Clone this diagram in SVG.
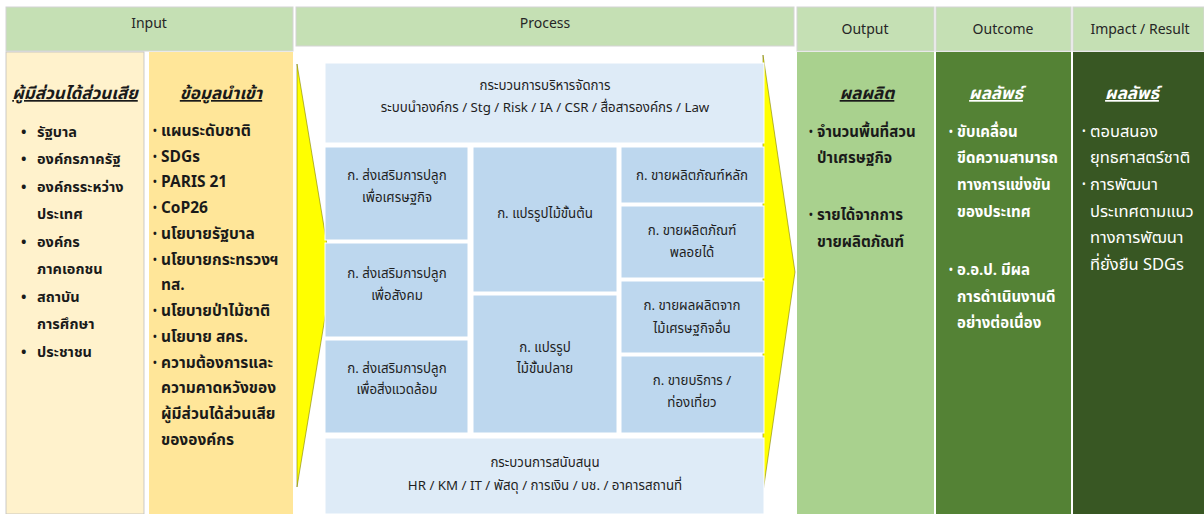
<svg xmlns="http://www.w3.org/2000/svg" width="1204" height="514" viewBox="0 0 1204 514">
<style>
.hdr{fill:#c5e0b4;stroke:#d4d4d4;stroke-width:1}
.ht{font-family:"Noto Sans","Liberation Sans",sans-serif;font-size:14px;fill:#262626;text-anchor:middle}
.th{font-family:"Noto Sans Thai","Tahoma","Noto Sans",sans-serif}
.ttl{font-size:17px;font-weight:bold;font-style:italic;text-decoration:underline;text-anchor:middle}
.b{font-size:14.5px;font-weight:bold}
.b2{font-size:15.5px;font-weight:bold}
.b3{font-size:15px;font-weight:bold}
.r{font-size:16.5px;font-weight:normal}
.dot{font-size:10px}
.c{font-size:13.3px;text-anchor:middle;fill:#1f1f1f}
.dk{fill:#1a1a1a}
.wt{fill:#ffffff}
.cell{fill:#bdd7ee;stroke:#ffffff;stroke-width:1}
.lt{fill:#deebf7;stroke:#ffffff;stroke-width:1}
.arrow{fill:#ffff00;stroke:#7f7f00;stroke-width:0.6}
</style>
<rect width="1204" height="514" fill="#ffffff"/>
<g id="connectors">
<polygon class="arrow" points="297,64 332,275 297,487"/>
<polygon class="arrow" points="763,55 795,272 763,492"/>
</g>
<g id="header-input"><rect class="hdr" x="6" y="7" width="287" height="44"/><text class="ht" x="149" y="28">Input</text></g>
<g id="header-process"><rect class="hdr" x="296" y="7" width="498" height="39"/><text class="ht" x="545" y="28">Process</text></g>
<g id="header-output"><rect class="hdr" x="797" y="7" width="137" height="44"/><text class="ht" x="865" y="34">Output</text></g>
<g id="header-outcome"><rect class="hdr" x="936" y="7" width="135" height="44"/><text class="ht" x="1003" y="34">Outcome</text></g>
<g id="header-impact"><rect class="hdr" x="1073" y="7" width="131" height="44"/><text class="ht" x="1140" y="34">Impact / Result</text></g>

<g id="stakeholders">
<rect x="6" y="52" width="138" height="462" fill="#fff2cc" stroke="#bfbfbf" stroke-width="0.8"/>
<text class="th ttl dk" x="75" y="99">ผู้มีส่วนได้ส่วนเสีย</text>
<g class="th b dk">
<text x="21" y="137">•</text><text x="37" y="137">รัฐบาล</text>
<text x="21" y="164">•</text><text x="37" y="164">องค์กรภาครัฐ</text>
<text x="21" y="192">•</text><text x="37" y="192">องค์กรระหว่าง</text>
<text x="37" y="219">ประเทศ</text>
<text x="21" y="247">•</text><text x="37" y="247">องค์กร</text>
<text x="37" y="274">ภาคเอกชน</text>
<text x="21" y="302">•</text><text x="37" y="302">สถาบัน</text>
<text x="37" y="329">การศึกษา</text>
<text x="21" y="357">•</text><text x="37" y="357">ประชาชน</text>
</g>
</g>

<g id="input-data">
<rect x="149" y="52" width="144" height="462" fill="#ffe699"/>
<text class="th ttl dk" x="221" y="99">ข้อมูลนำเข้า</text>
<g class="th b2 dk">
<text class="dot" x="153" y="134">•</text><text x="161" y="136">แผนระดับชาติ</text>
<text class="dot" x="153" y="160">•</text><text x="161" y="162">SDGs</text>
<text class="dot" x="153" y="185">•</text><text x="161" y="187">PARIS 21</text>
<text class="dot" x="153" y="211">•</text><text x="161" y="213">CoP26</text>
<text class="dot" x="153" y="237">•</text><text x="161" y="239">นโยบายรัฐบาล</text>
<text class="dot" x="153" y="263">•</text><text x="161" y="265">นโยบายกระทรวงฯ</text>
<text x="161" y="290">ทส.</text>
<text class="dot" x="153" y="314">•</text><text x="161" y="316">นโยบายป่าไม้ชาติ</text>
<text class="dot" x="153" y="340">•</text><text x="161" y="342">นโยบาย สคร.</text>
<text class="dot" x="153" y="366">•</text><text x="161" y="368">ความต้องการและ</text>
<text x="161" y="393">ความคาดหวังของ</text>
<text x="161" y="419">ผู้มีส่วนได้ส่วนเสีย</text>
<text x="161" y="445">ขององค์กร</text>
</g>
</g>

<g id="management">
<rect class="lt" x="325" y="63" width="439" height="80"/>
<text class="th c" x="545" y="90">กระบวนการบริหารจัดการ</text>
<text class="th c" x="545" y="112">ระบบนำองค์กร / Stg / Risk / IA / CSR / สื่อสารองค์กร / Law</text>
</g>
<g id="plant-economy"><rect class="cell" x="325" y="147" width="143" height="93"/><text class="th c" x="397" y="180">ก. ส่งเสริมการปลูก</text><text class="th c" x="397" y="202">เพื่อเศรษฐกิจ</text></g>
<g id="plant-society"><rect class="cell" x="325" y="243" width="143" height="94"/><text class="th c" x="397" y="278">ก. ส่งเสริมการปลูก</text><text class="th c" x="397" y="300">เพื่อสังคม</text></g>
<g id="plant-environment"><rect class="cell" x="325" y="340" width="143" height="93"/><text class="th c" x="397" y="373">ก. ส่งเสริมการปลูก</text><text class="th c" x="397" y="394">เพื่อสิ่งแวดล้อม</text></g>
<g id="primary-processing"><rect class="cell" x="473" y="147" width="144" height="145"/><text class="th c" x="545" y="218">ก. แปรรูปไม้ขั้นต้น</text></g>
<g id="final-processing"><rect class="cell" x="473" y="295" width="144" height="138"/><text class="th c" x="545" y="352">ก. แปรรูป</text><text class="th c" x="545" y="373">ไม้ขั้นปลาย</text></g>
<g id="main-products"><rect class="cell" x="621" y="147" width="143" height="56"/><text class="th c" x="692" y="180">ก. ขายผลิตภัณฑ์หลัก</text></g>
<g id="by-products"><rect class="cell" x="621" y="206" width="143" height="72"/><text class="th c" x="692" y="235">ก. ขายผลิตภัณฑ์</text><text class="th c" x="692" y="257">พลอยได้</text></g>
<g id="other-wood"><rect class="cell" x="621" y="281" width="143" height="72"/><text class="th c" x="692" y="310">ก. ขายผลผลิตจาก</text><text class="th c" x="692" y="333">ไม้เศรษฐกิจอื่น</text></g>
<g id="services"><rect class="cell" x="621" y="356" width="143" height="77"/><text class="th c" x="692" y="385">ก. ขายบริการ /</text><text class="th c" x="692" y="407">ท่องเที่ยว</text></g>
<g id="support">
<rect class="lt" x="325" y="438" width="439" height="76"/>
<text class="th c" x="545" y="467">กระบวนการสนับสนุน</text>
<text class="th c" x="545" y="490">HR / KM / IT / พัสดุ / การเงิน / บช. / อาคารสถานที่</text>
</g>

<g id="output">
<rect x="797" y="52" width="137" height="462" fill="#a9d18e"/>
<text class="th ttl dk" x="867" y="99">ผลผลิต</text>
<g class="th b3 dk">
<text class="dot" x="809" y="135">•</text><text x="817" y="137">จำนวนพื้นที่สวน</text>
<text x="817" y="163">ป่าเศรษฐกิจ</text>
<text class="dot" x="809" y="218">•</text><text x="817" y="220">รายได้จากการ</text>
<text x="817" y="247">ขายผลิตภัณฑ์</text>
</g>
</g>

<g id="outcome">
<rect x="936" y="52" width="135" height="462" fill="#548235"/>
<text class="th ttl wt" x="996" y="99">ผลลัพธ์</text>
<g class="th b3 wt">
<text class="dot" x="949" y="135">•</text><text x="957" y="137">ขับเคลื่อน</text>
<text x="957" y="163">ขีดความสามารถ</text>
<text x="957" y="190">ทางการแข่งขัน</text>
<text x="957" y="217">ของประเทศ</text>
<text class="dot" x="949" y="273">•</text><text x="957" y="275">อ.อ.ป. มีผล</text>
<text x="957" y="302">การดำเนินงานดี</text>
<text x="957" y="328">อย่างต่อเนื่อง</text>
</g>
</g>

<g id="impact">
<rect x="1073" y="52" width="131" height="462" fill="#385723"/>
<text class="th ttl wt" x="1132" y="99">ผลลัพธ์</text>
<g class="th r wt">
<text class="dot" x="1082" y="135">•</text><text x="1090" y="137">ตอบสนอง</text>
<text x="1090" y="163">ยุทธศาสตร์ชาติ</text>
<text class="dot" x="1082" y="188">•</text><text x="1090" y="190">การพัฒนา</text>
<text x="1090" y="217">ประเทศตามแนว</text>
<text x="1090" y="243">ทางการพัฒนา</text>
<text x="1090" y="270">ที่ยั่งยืน SDGs</text>
</g>
</g>
</svg>
